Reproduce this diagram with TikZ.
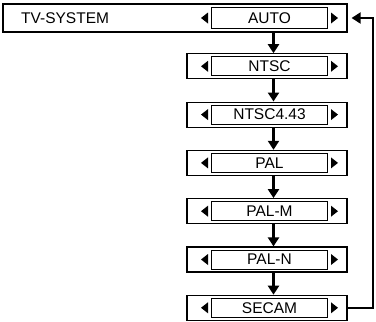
\documentclass[tikz,border=0pt]{standalone}
\usepackage{fontspec}
\setmainfont{Liberation Sans}
\usetikzlibrary{arrows.meta,calc}

\begin{document}
\begin{tikzpicture}[x=1pt, y=-1pt,
    font=\fontsize{15.5}{17}\selectfont,
    outerbox/.style={draw, line width=1.2pt, minimum width=160pt, minimum height=25pt, inner sep=0pt},
    innerbox/.style={draw, line width=1pt, minimum width=116pt, minimum height=19pt, inner sep=0pt},
    flow/.style={line width=2.4pt, -{Triangle[length=9pt,width=11pt]}}]

  \useasboundingbox (0,0) rectangle (376,322);

  % Top row with the menu title
  \node[outerbox, minimum width=344pt, minimum height=28pt] (o0) at (175,18) {};
  \node[anchor=west, inner sep=0pt] (title) at (21,18) {TV-SYSTEM};
  \node[innerbox, minimum height=21pt] (in0) at (269.5,18) {AUTO};

  % Option rows
  \foreach \lbl [count=\i] in {NTSC,NTSC4.43,PAL,PAL-M,PAL-N,SECAM} {
    \pgfmathsetmacro{\ypos}{18+\i*48.3}
    \node[outerbox] (o\i) at (267,\ypos) {};
    \node[innerbox] (in\i) at (269.5,\ypos) {\lbl};
  }

  % Left and right pickers
  \foreach \i in {0,...,6} {
    \fill ($(in\i.west)+(-3,-5.5)$) -- ++(0,11) -- ++(-7,-5.5) -- cycle;
    \fill ($(in\i.east)+(3,-5.5)$) -- ++(0,11) -- ++(7,-5.5) -- cycle;
  }

  % Arrows down the list
  \foreach \i [evaluate=\i as \j using int(\i+1)] in {0,...,5}
    \draw[flow] ([xshift=4pt]in\i.south |- o\i.south) -- ([xshift=4pt]in\i.south |- o\j.north);

  % Back to the top
  \draw[flow, line width=2pt] (o6.east) -- ++(25,0) |- ([xshift=4pt]o0.east);

\end{tikzpicture}
\end{document}
